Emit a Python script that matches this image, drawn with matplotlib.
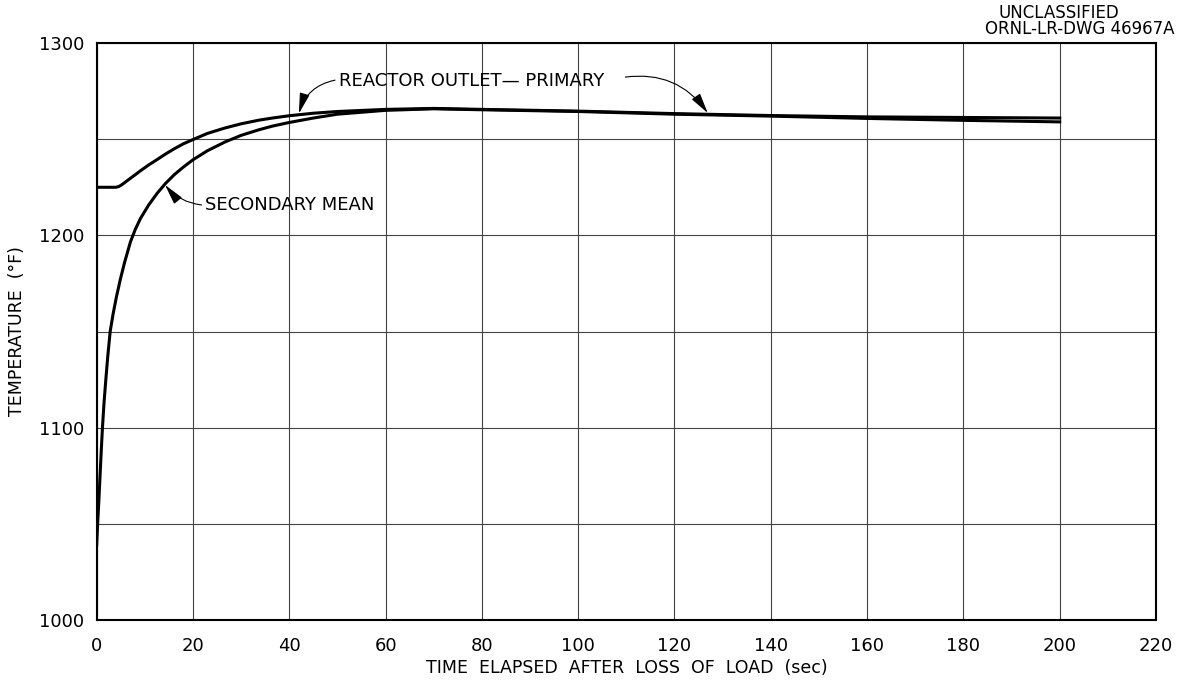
import matplotlib.pyplot as plt
import numpy as np

# Secondary mean temperature
secondary_time = [0, 0.2, 0.45, 0.7, 0.95, 1.2, 1.5, 1.9, 2.3, 2.8, 3.4, 4.1, 4.9, 5.8,
                  7.0, 8.0, 9.1, 10.8, 12.6, 14.3, 16.1, 18, 20, 23, 26.6, 30, 33.7, 36.5,
                  40, 45, 50, 60, 70, 80, 100, 120, 140, 160, 180, 200]
secondary_temp = [1039, 1050, 1062, 1075, 1088, 1100, 1112, 1125, 1137, 1150, 1159,
                  1168, 1177, 1186, 1196.5, 1203, 1208.8, 1215.8, 1222, 1227, 1231.5, 1235.5,
                  1239.3, 1244, 1248.5, 1252, 1254.9, 1256.8, 1258.7, 1261, 1263, 1265,
                  1265.8, 1265.3, 1264.4, 1263, 1262, 1260.8, 1259.8, 1259]

# Reactor outlet - primary
primary_time = [0, 4.0, 4.6, 5.2, 5.9, 6.8, 8.0, 9.1, 10.8, 12.6, 14.3, 16.1, 18, 20, 23,
                26.6, 30, 33.7, 36.5, 40, 45, 50, 60, 70, 80, 100, 120, 140, 160, 180, 200]
primary_temp = [1225, 1225, 1225.4, 1226.3, 1227.6, 1229.3, 1231.5, 1233.6, 1236.6, 1239.5,
                1242.3, 1245, 1247.6, 1249.8, 1253, 1255.8, 1258, 1259.9, 1261, 1262.2,
                1263.5, 1264.4, 1265.5, 1266, 1265.5, 1264.6, 1263.3, 1262.3, 1261.6, 1261.3,
                1261.0]

x_ticks = np.arange(0, 221, 20)
y_ticks = [1000, 1100, 1200, 1300]

plt.rcParams['font.family'] = ['DejaVu Sans']

fig = plt.figure(figsize=(11.79, 6.94), dpi=100)
ax = fig.add_axes([0.082, 0.1066, 0.8985, 0.8314])

#grid every 20 sec and every 50 deg
ax.set_xticks(x_ticks)
ax.set_yticks(np.arange(1000, 1301, 50), minor=True)
ax.set_yticks(y_ticks)
ax.grid(True, which='both', color='#444444', linewidth=0.8)
ax.set_axisbelow(True)

ax.plot(primary_time, primary_temp, color='black', linewidth=2.2, solid_joinstyle='round')
ax.plot(secondary_time, secondary_temp, color='black', linewidth=2.2, solid_joinstyle='round')

ax.set_xlim(0, 220)
ax.set_ylim(1000, 1300)
ax.set_xticklabels([str(t) for t in x_ticks])
ax.set_yticklabels([str(t) for t in y_ticks])
ax.tick_params(axis='both', which='both', length=0, labelsize=13)
ax.tick_params(axis='x', pad=12)
ax.tick_params(axis='y', pad=9)
for s in ax.spines.values():
    s.set_linewidth(1.5)

ax.set_xlabel('TIME  ELAPSED  AFTER  LOSS  OF  LOAD  (sec)', fontsize=12.5, labelpad=3)
ax.set_ylabel('TEMPERATURE  (°F)', fontsize=12.5, labelpad=9)

#labels with leader arrows
arrow = dict(arrowstyle='-|>,head_length=0.9,head_width=0.22', color='black', lw=0.8,
             shrinkA=0, shrinkB=0, mutation_scale=14)

ax.text(50.3, 1280.5, 'REACTOR OUTLET\u2014 PRIMARY', fontsize=13, ha='left', va='center')
ax.annotate('', xy=(42, 1263.4), xytext=(49.5, 1280.7),
            arrowprops=dict(arrow, connectionstyle='arc3,rad=0.3'))
ax.annotate('', xy=(126.9, 1263.6), xytext=(109.8, 1282.3),
            arrowprops=dict(arrow, connectionstyle='arc3,rad=-0.3'))

ax.text(22.5, 1215.8, 'SECONDARY MEAN', fontsize=13, ha='left', va='center')
ax.annotate('', xy=(14.2, 1226.2), xytext=(21.8, 1215.8),
            arrowprops=dict(arrow, connectionstyle='arc3,rad=-0.2'))

fig.text(0.898, 0.981, 'UNCLASSIFIED', fontsize=12, ha='center', va='center')
fig.text(0.996, 0.958, 'ORNL-LR-DWG 46967A', fontsize=12, ha='right', va='center')

fig.savefig('out.png', dpi=100)
